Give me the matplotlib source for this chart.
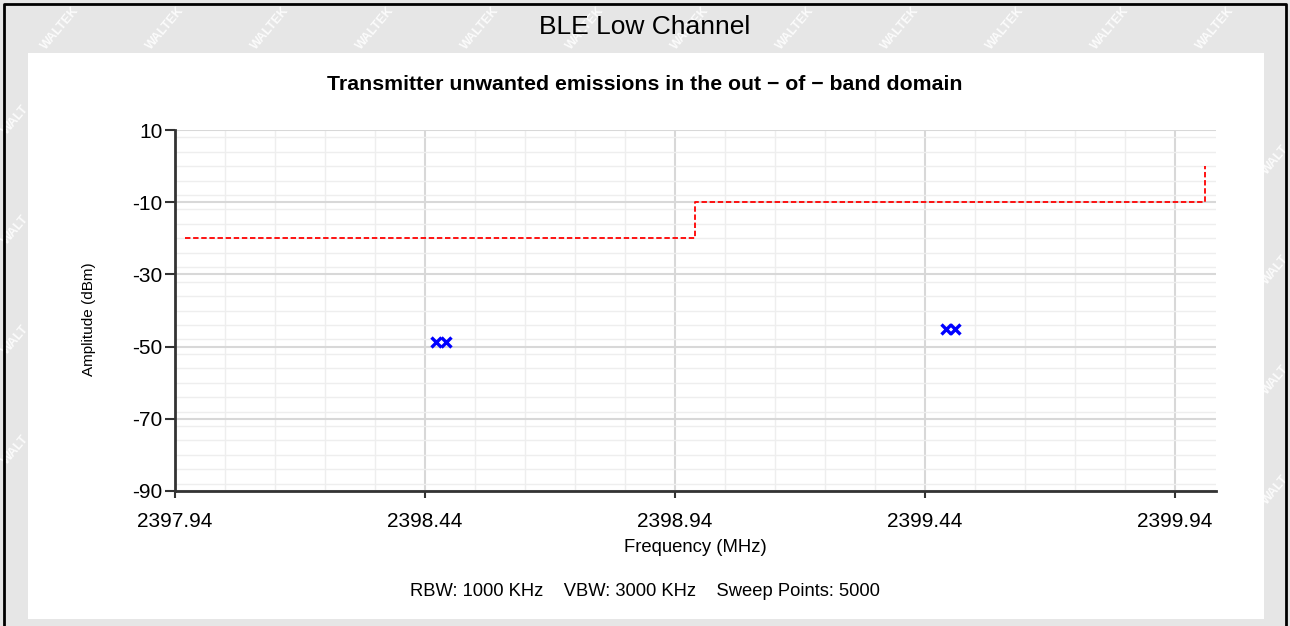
import numpy as np
import matplotlib
matplotlib.use("Agg")
import matplotlib.pyplot as plt
from matplotlib.patches import Rectangle
from matplotlib.lines import Line2D
from matplotlib.ticker import MultipleLocator, FixedLocator

plt.rcParams['font.family'] = ['Liberation Sans', 'DejaVu Sans']
plt.rcParams['axes.unicode_minus'] = False

# limit line (dBm) vs frequency (MHz)
limit_freq = [2397.96, 2398.98, 2398.98, 2400.00, 2400.00]
limit_level = [-20, -20, -10, -10, 0]

# measured emission markers
peak_freq = [2398.462, 2398.482, 2399.483, 2399.500]
peak_level = [-48.8, -48.8, -45.0, -45.0]

x_ticks = [2397.94, 2398.44, 2398.94, 2399.44, 2399.94]
y_ticks = [10, -10, -30, -50, -70, -90]

suptitle = "BLE Low Channel"
title = "Transmitter unwanted emissions in the out \u2212 of \u2212 band domain"
footer = "RBW: 1000 KHz    VBW: 3000 KHz    Sweep Points: 5000"

W, H = 1290, 626
fig = plt.figure(figsize=(W / 100, H / 100), dpi=100)
fig.patch.set_facecolor('#e6e6e6')

# watermark in the grey frame (kept inside the figure)
wm = dict(color='white', alpha=0.85, fontsize=9, fontweight='bold', rotation=50,
          ha='center', va='center', zorder=0)
for x in np.arange(60, 1240, 105):
    fig.text(x / W, 1 - 28 / H, "WALTEK", **wm)
for y in np.arange(120, 560, 110):
    fig.text(16 / W, 1 - y / H, "WALT", **wm)
    fig.text(1276 / W, 1 - (y + 40) / H, "WALT", **wm)

# white panel and black frame
fig.patches.append(Rectangle((28 / W, 1 - 619 / H), (1264 - 28) / W, (619 - 53) / H,
                             transform=fig.transFigure, facecolor='white', edgecolor='none', zorder=1))
fig.lines.append(Line2D([4 / W, 4 / W, 1286 / W, 1286 / W], [0, 1 - 4 / H, 1 - 4 / H, 0],
                        transform=fig.transFigure, color='black', lw=2, zorder=2))

fig.text(0.5, 1 - 27 / H, suptitle, fontsize=19, ha='center', va='center', zorder=3)
fig.text(0.5, 1 - 84 / H, title, fontsize=15.3, fontweight='bold', ha='center', va='center', zorder=3)
fig.text(0.5, 1 - 591 / H, footer, fontsize=13.2, ha='center', va='center', zorder=3)

ax = fig.add_axes([175 / W, 1 - 491 / H, (1216 - 175) / W, (491 - 130) / H])
ax.set_zorder(3)
ax.patch.set_facecolor('white')

ax.plot(limit_freq, limit_level, color='#ff0000', lw=1.3, dashes=(3, 1.5), zorder=3)
ax.plot(peak_freq, peak_level, ls='none', marker='x', color='#0000ff', ms=6.5, mew=2.4, zorder=4)

ax.set_xlim(2397.94, 2400.023)
ax.set_ylim(-90, 10)
ax.xaxis.set_major_locator(FixedLocator(x_ticks))
ax.xaxis.set_minor_locator(FixedLocator(np.round(np.arange(2397.94, 2400.03, 0.1), 2)))
ax.yaxis.set_major_locator(FixedLocator(y_ticks))
ax.yaxis.set_minor_locator(MultipleLocator(4))
ax.set_xticklabels([f"{v:.2f}" for v in x_ticks])

ax.grid(which='major', color='#d8d8d8', lw=1.5)
ax.grid(which='minor', color='#eeeeee', lw=1)
ax.set_axisbelow(True)

for s in ['top', 'right']:
    ax.spines[s].set_visible(False)
for s in ['left', 'bottom']:
    ax.spines[s].set_color('#333333')
    ax.spines[s].set_linewidth(2)

ax.tick_params(which='major', width=1.5, color='#333333', labelsize=15)
ax.tick_params(axis='x', which='major', length=5, pad=10)
ax.tick_params(axis='y', which='major', length=7, pad=2)
ax.tick_params(which='minor', length=0)

ax.set_xlabel("Frequency (MHz)", fontsize=13.3)
ax.xaxis.set_label_coords((695 - 175) / 1041, -(539 - 491) / 361)
ax.set_ylabel("Amplitude (dBm)", fontsize=11)
ax.yaxis.set_label_coords(-(175 - 96) / 1041, 1 - (319 - 130) / 361)

fig.savefig("out.png", dpi=100, facecolor=fig.get_facecolor())
